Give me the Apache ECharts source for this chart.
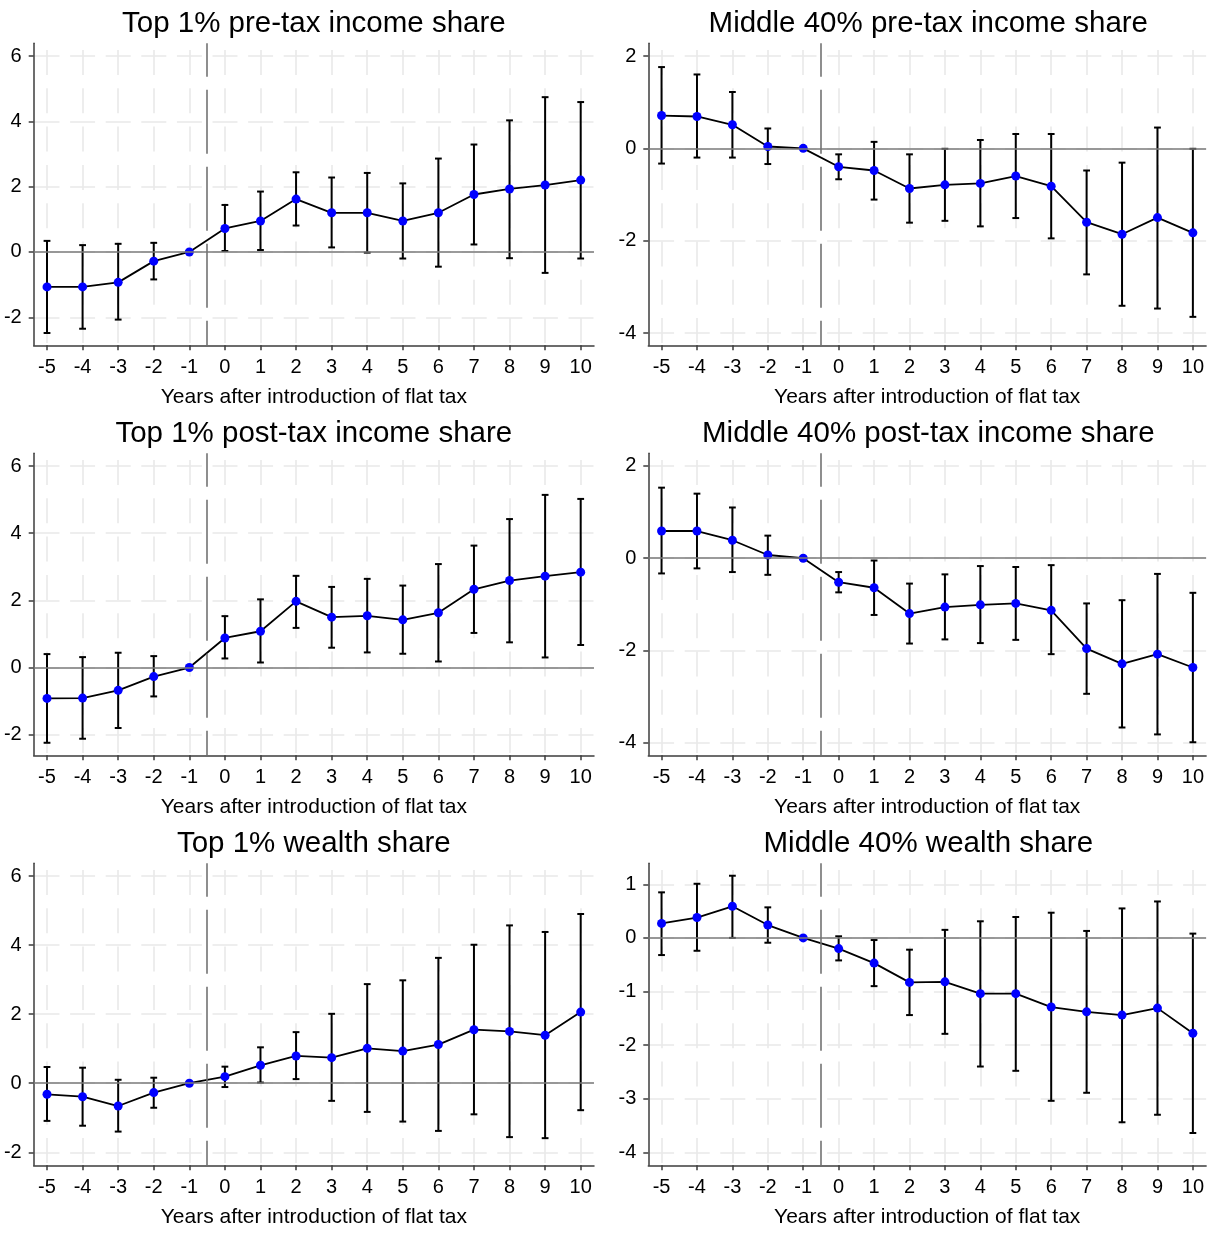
<!DOCTYPE html>
<html>
<head>
<meta charset="utf-8">
<script src="https://cdn.jsdelivr.net/npm/echarts@6/dist/echarts.min.js"></script>
<style>
  html, body { margin: 0; padding: 0; background: #fff; }
  #chart { width: 1207px; height: 1236px; }
</style>
</head>
<body>
<div id="chart"></div>
<script>
// Event-time axis: years relative to the introduction of the flat tax
const years = [-5, -4, -3, -2, -1, 0, 1, 2, 3, 4, 5, 6, 7, 8, 9, 10];

// Tick labels for the value axes
const yTicksTop1 = [-2, 0, 2, 4, 6];
const yTicksMid40Income = [-4, -2, 0, 2];
const yTicksMid40Wealth = [-4, -3, -2, -1, 0, 1];

// Top 1% pre-tax income share: estimate and 95% interval (year -1 is the reference)
const top1PreEst = [-1.07, -1.07, -0.93, -0.28, 0, 0.72, 0.95, 1.62, 1.20, 1.20, 0.95, 1.20, 1.76, 1.93, 2.05, 2.20];
const top1PreLo  = [-2.48, -2.35, -2.07, -0.84, null, 0.03, 0.06, 0.81, 0.14, -0.02, -0.20, -0.45, 0.23, -0.19, -0.64, -0.20];
const top1PreHi  = [0.34, 0.21, 0.25, 0.28, null, 1.44, 1.85, 2.44, 2.28, 2.42, 2.10, 2.86, 3.29, 4.03, 4.74, 4.59];

// Middle 40% pre-tax income share
const mid40PreEst = [0.71, 0.69, 0.51, 0.04, 0, -0.40, -0.48, -0.87, -0.79, -0.76, -0.60, -0.82, -1.60, -1.86, -1.50, -1.83];
const mid40PreLo  = [-0.33, -0.20, -0.20, -0.34, null, -0.67, -1.11, -1.61, -1.57, -1.69, -1.51, -1.95, -2.73, -3.41, -3.47, -3.65];
const mid40PreHi  = [1.76, 1.60, 1.22, 0.43, null, -0.13, 0.14, -0.13, -0.01, 0.18, 0.31, 0.31, -0.48, -0.31, 0.45, -0.01];

// Top 1% post-tax income share
const top1PostEst = [-0.92, -0.91, -0.68, -0.27, 0, 0.88, 1.08, 1.97, 1.50, 1.54, 1.42, 1.63, 2.33, 2.59, 2.72, 2.84];
const top1PostLo  = [-2.24, -2.12, -1.80, -0.86, null, 0.27, 0.15, 1.18, 0.59, 0.45, 0.41, 0.18, 1.03, 0.75, 0.30, 0.67];
const top1PostHi  = [0.40, 0.31, 0.44, 0.34, null, 1.53, 2.03, 2.73, 2.40, 2.64, 2.44, 3.08, 3.63, 4.42, 5.14, 5.02];

// Middle 40% post-tax income share
const mid40PostEst = [0.59, 0.59, 0.39, 0.07, 0, -0.52, -0.64, -1.20, -1.06, -1.01, -0.98, -1.13, -1.96, -2.29, -2.08, -2.37];
const mid40PostLo  = [-0.33, -0.22, -0.30, -0.36, null, -0.74, -1.23, -1.85, -1.76, -1.84, -1.77, -2.08, -2.94, -3.67, -3.82, -3.99];
const mid40PostHi  = [1.53, 1.40, 1.10, 0.49, null, -0.30, -0.05, -0.55, -0.35, -0.17, -0.19, -0.15, -0.98, -0.91, -0.34, -0.75];

// Top 1% wealth share
const top1WealthEst = [-0.32, -0.39, -0.66, -0.27, 0, 0.19, 0.52, 0.79, 0.74, 1.01, 0.93, 1.12, 1.55, 1.50, 1.39, 2.06];
const top1WealthLo  = [-1.09, -1.23, -1.40, -0.71, null, -0.11, 0.02, 0.12, -0.51, -0.83, -1.11, -1.38, -0.90, -1.56, -1.59, -0.78];
const top1WealthHi  = [0.47, 0.45, 0.10, 0.16, null, 0.48, 1.04, 1.48, 2.01, 2.87, 2.98, 3.63, 4.01, 4.57, 4.38, 4.90];

// Middle 40% wealth share
const mid40WealthEst = [0.27, 0.38, 0.59, 0.24, 0, -0.20, -0.47, -0.83, -0.82, -1.04, -1.04, -1.29, -1.38, -1.44, -1.31, -1.78];
const mid40WealthLo  = [-0.32, -0.24, 0.00, -0.09, null, -0.42, -0.90, -1.44, -1.79, -2.40, -2.48, -3.04, -2.89, -3.44, -3.30, -3.64];
const mid40WealthHi  = [0.85, 1.01, 1.16, 0.57, null, 0.03, -0.04, -0.22, 0.15, 0.31, 0.39, 0.47, 0.13, 0.55, 0.68, 0.08];

const xAxisTitle = 'Years after introduction of flat tax';
const treatmentLine = -0.5;

const panels = [
  { title: 'Top 1% pre-tax income share',       est: top1PreEst,     lo: top1PreLo,     hi: top1PreHi,     ticks: yTicksTop1,        yMin: -2.857, yMax: 6.389 },
  { title: 'Middle 40% pre-tax income share',   est: mid40PreEst,    lo: mid40PreLo,    hi: mid40PreHi,    ticks: yTicksMid40Income, yMin: -4.266, yMax: 2.275 },
  { title: 'Top 1% post-tax income share',      est: top1PostEst,    lo: top1PostLo,    hi: top1PostHi,    ticks: yTicksTop1,        yMin: -2.613, yMax: 6.378 },
  { title: 'Middle 40% post-tax income share',  est: mid40PostEst,   lo: mid40PostLo,   hi: mid40PostHi,   ticks: yTicksMid40Income, yMin: -4.273, yMax: 2.275 },
  { title: 'Top 1% wealth share',               est: top1WealthEst,  lo: top1WealthLo,  hi: top1WealthHi,  ticks: yTicksTop1,        yMin: -2.376, yMax: 6.368 },
  { title: 'Middle 40% wealth share',           est: mid40WealthEst, lo: mid40WealthLo, hi: mid40WealthHi, ticks: yTicksMid40Wealth, yMin: -4.243, yMax: 1.392 }
];

// Panel geometry (2 columns x 3 rows)
const colLeft = [33.7, 648.3];
const colWidth = [560.3, 560];
const rowTop = [43.3, 453.3, 863.3];
const plotHeight = 302;
const xMin = -5.374, xMax = 10.374;

const FONT = '"Liberation Sans", Arial, Helvetica, sans-serif';
const axisColor = '#3c3c3c';
const gridColor = '#e9e9e9';

function errorBarItem(params, api) {
  const x = api.value(0);
  const lo = api.value(1);
  const hi = api.value(2);
  const pTop = api.coord([x, hi]);
  const pBot = api.coord([x, lo]);
  const cap = 3.4;
  const style = { stroke: '#000', lineWidth: 2, fill: null };
  return {
    type: 'group',
    children: [
      { type: 'line', shape: { x1: pTop[0], y1: pTop[1], x2: pBot[0], y2: pBot[1] }, style },
      { type: 'line', shape: { x1: pTop[0] - cap, y1: pTop[1], x2: pTop[0] + cap, y2: pTop[1] }, style },
      { type: 'line', shape: { x1: pBot[0] - cap, y1: pBot[1], x2: pBot[0] + cap, y2: pBot[1] }, style }
    ]
  };
}

const option = {
  animation: false,
  backgroundColor: '#fff',
  title: [], grid: [], xAxis: [], yAxis: [], series: []
};

panels.forEach((p, i) => {
  const col = i % 2, row = Math.floor(i / 2);
  const left = colLeft[col], top = rowTop[row], width = colWidth[col];

  option.title.push({
    text: p.title,
    left: left + width / 2,
    top: top - 34.5,
    textAlign: 'center',
    padding: 0,
    textStyle: { fontFamily: FONT, fontSize: 29.5, fontWeight: 'normal', color: '#000' }
  });

  option.grid.push({ left: left, top: top, width: width, height: plotHeight, containLabel: false });

  option.xAxis.push({
    type: 'value', gridIndex: i, min: xMin, max: xMax,
    name: xAxisTitle, nameLocation: 'middle', nameGap: 41,
    nameTextStyle: { fontFamily: FONT, fontSize: 21, color: '#000' },
    axisLine: { onZero: false, lineStyle: { color: axisColor, width: 1.5 } },
    axisTick: { customValues: years, length: 5, lineStyle: { color: axisColor, width: 1.5 } },
    axisLabel: { customValues: years, margin: 12, fontFamily: FONT, fontSize: 20, color: '#000' },
    splitLine: { show: true, lineStyle: { color: gridColor, width: 1.6, type: [25, 13.3], dashOffset: 31.6 } }
  });

  option.yAxis.push({
    type: 'value', gridIndex: i, min: p.yMin, max: p.yMax,
    axisLine: { show: true, onZero: false, lineStyle: { color: axisColor, width: 1.5 } },
    axisTick: { show: true, customValues: p.ticks, length: 5, lineStyle: { color: axisColor, width: 1.5 } },
    axisLabel: { customValues: p.ticks, margin: 12, fontFamily: FONT, fontSize: 20, color: '#000' },
    splitLine: { show: true, lineStyle: { color: gridColor, width: 1.6, type: [25, 10.6], dashOffset: 34.8 } }
  });

  // Reference lines: zero and the year the flat tax was introduced
  option.series.push({
    type: 'line', xAxisIndex: i, yAxisIndex: i, data: [], z: 1, silent: true,
    markLine: {
      silent: true, symbol: ['none', 'none'], label: { show: false },
      animation: false,
      data: [
        [{ coord: [xMin, 0], lineStyle: { color: '#7a7a7a', width: 1.7, type: 'solid' } },
         { coord: [xMax, 0] }],
        [{ coord: [treatmentLine, p.yMax], lineStyle: { color: '#737373', width: 1.6, type: [64, 13], dashOffset: 30.6 } },
         { coord: [treatmentLine, p.yMin] }]
      ]
    }
  });

  // Confidence intervals
  const bars = [];
  years.forEach((y, k) => {
    if (p.lo[k] !== null && p.hi[k] !== null) bars.push([y, p.lo[k], p.hi[k]]);
  });
  option.series.push({
    type: 'custom', xAxisIndex: i, yAxisIndex: i, z: 3, silent: true,
    renderItem: errorBarItem,
    encode: { x: 0, y: [1, 2] },
    data: bars
  });

  // Point estimates
  option.series.push({
    type: 'line', xAxisIndex: i, yAxisIndex: i, z: 4, silent: true,
    data: years.map((y, k) => [y, p.est[k]]),
    symbol: 'circle', symbolSize: 9,
    itemStyle: { color: '#0000ff', borderWidth: 0 },
    lineStyle: { color: '#000', width: 1.8 }
  });
});

const chart = echarts.init(document.getElementById('chart'), null, { renderer: 'canvas' });
chart.setOption(option);
</script>
</body>
</html>
